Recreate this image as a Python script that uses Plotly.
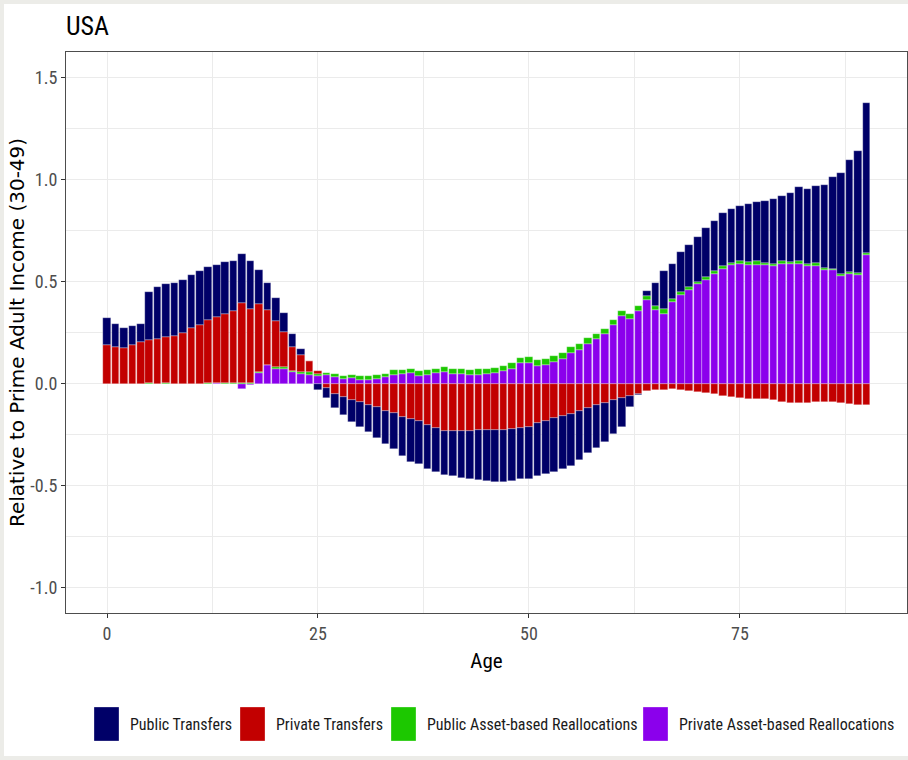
import plotly.graph_objects as go

# Age-profile decomposition for the USA (relative to prime adult income, ages 30-49)
ages = list(range(91))

public_transfers = [
    0.130, 0.113, 0.100, 0.093, 0.090, 0.235, 0.255, 0.258, 0.262, 0.260,
    0.262, 0.262, 0.260, 0.257, 0.255, 0.248, 0.244, 0.235, 0.163, 0.134,
    0.113, 0.093, 0.062, 0.031, 0.000, -0.028, -0.049, -0.070, -0.090, -0.106,
    -0.123, -0.134, -0.152, -0.162, -0.173, -0.190, -0.209, -0.212, -0.212, -0.216,
    -0.219, -0.221, -0.229, -0.237, -0.245, -0.250, -0.252, -0.252, -0.252, -0.250,
    -0.256, -0.261, -0.260, -0.266, -0.260, -0.253, -0.240, -0.225, -0.212, -0.193,
    -0.167, -0.142, -0.056, -0.005, 0.025, 0.111, 0.188, 0.172, 0.194, 0.208,
    0.219, 0.240, 0.245, 0.261, 0.263, 0.273, 0.288, 0.291, 0.304, 0.314,
    0.322, 0.338, 0.363, 0.366, 0.379, 0.406, 0.448, 0.494, 0.551, 0.598,
    0.738,
]

private_transfers = [
    0.193, 0.181, 0.175, 0.193, 0.204, 0.211, 0.218, 0.226, 0.233, 0.248,
    0.272, 0.288, 0.311, 0.322, 0.341, 0.353, 0.392, 0.365, 0.335, 0.267,
    0.228, 0.172, 0.116, 0.082, 0.052, 0.010, -0.020, -0.047, -0.064, -0.080,
    -0.090, -0.101, -0.113, -0.131, -0.145, -0.162, -0.172, -0.181, -0.203, -0.217,
    -0.229, -0.232, -0.232, -0.229, -0.227, -0.224, -0.227, -0.227, -0.222, -0.217,
    -0.209, -0.191, -0.183, -0.167, -0.157, -0.147, -0.132, -0.116, -0.103, -0.092,
    -0.078, -0.067, -0.057, -0.051, -0.034, -0.030, -0.028, -0.025, -0.028, -0.034,
    -0.038, -0.044, -0.049, -0.057, -0.064, -0.070, -0.072, -0.072, -0.074, -0.078,
    -0.088, -0.093, -0.093, -0.093, -0.090, -0.088, -0.088, -0.095, -0.098, -0.103,
    -0.103,
]

public_asset_realloc = [
    0.000, 0.000, 0.000, 0.000, 0.000, 0.003, 0.002, 0.002, 0.000, 0.000,
    0.000, 0.002, 0.002, 0.002, 0.002, 0.003, 0.003, 0.003, 0.005, 0.003,
    0.007, 0.006, 0.008, 0.010, 0.013, 0.010, 0.010, 0.011, 0.013, 0.018,
    0.018, 0.018, 0.018, 0.018, 0.021, 0.018, 0.021, 0.023, 0.023, 0.021,
    0.023, 0.026, 0.026, 0.026, 0.028, 0.025, 0.025, 0.025, 0.028, 0.025,
    0.029, 0.029, 0.028, 0.031, 0.029, 0.029, 0.029, 0.028, 0.028, 0.025,
    0.026, 0.020, 0.023, 0.023, 0.020, 0.020, 0.020, 0.018, 0.018, 0.016,
    0.013, 0.016, 0.013, 0.013, 0.013, 0.013, 0.013, 0.016, 0.013, 0.013,
    0.011, 0.011, 0.013, 0.010, 0.012, 0.010, 0.009, 0.011, 0.010, 0.010,
    0.009,
]

private_asset_realloc = [
    0.000, 0.000, 0.000, 0.000, 0.000, 0.000, 0.000, 0.002, 0.002, 0.002,
    0.002, 0.000, 0.002, 0.004, 0.002, 0.000, -0.023, -0.007, 0.054, 0.091,
    0.075, 0.075, 0.057, 0.050, 0.046, 0.041, 0.044, 0.036, 0.026, 0.028,
    0.020, 0.021, 0.026, 0.033, 0.046, 0.049, 0.054, 0.038, 0.044, 0.054,
    0.060, 0.047, 0.047, 0.044, 0.046, 0.049, 0.054, 0.062, 0.075, 0.103,
    0.103, 0.090, 0.095, 0.105, 0.124, 0.150, 0.165, 0.198, 0.219, 0.243,
    0.289, 0.335, 0.319, 0.358, 0.410, 0.364, 0.345, 0.400, 0.435, 0.459,
    0.489, 0.508, 0.541, 0.564, 0.582, 0.588, 0.583, 0.585, 0.582, 0.577,
    0.590, 0.587, 0.588, 0.580, 0.580, 0.559, 0.556, 0.528, 0.539, 0.536,
    0.632,
]

series_names = [
    "Public Transfers",
    "Private Transfers",
    "Public Asset-based Reallocations",
    "Private Asset-based Reallocations",
]
series_values = [public_transfers, private_transfers, public_asset_realloc, private_asset_realloc]
series_colors = ["#000068", "#C20000", "#1CC800", "#8B00EC"]

x_tickvals = [0, 25, 50, 75]
y_tickvals = [-1.0, -0.5, 0.0, 0.5, 1.0, 1.5]
y_ticktext = ["-1.0", "-0.5", "0.0", "0.5", "1.0", "1.5"]

NARROW = "Roboto Condensed, Liberation Sans Narrow, Liberation Sans, Arial, sans-serif"
WIDE = "DejaVu Sans, Liberation Sans, Arial, sans-serif"

W, H = 908, 760
PL, PR, PT, PB = 66, 907, 52, 613


def px_x(p):
    return (p - PL) / (PR - PL)


def px_y(p):
    return (PB - p) / (PB - PT)


fig = go.Figure()

# Stack from the zero line outward: private asset first, public transfers last
for name, vals, col in reversed(list(zip(series_names, series_values, series_colors))):
    fig.add_trace(go.Bar(
        x=ages, y=vals, name=name, width=0.9,
        marker=dict(color=col, line=dict(color="rgba(255,255,255,0.55)", width=0.5)),
        showlegend=False,
    ))

shapes = [
    # thin grey frame on the top, left and bottom of the page
    dict(type="rect", xref="paper", yref="paper",
         x0=px_x(0), x1=px_x(W + 20), y0=px_y(H), y1=px_y(0),
         line=dict(color="#ECECE8", width=8), fillcolor="rgba(0,0,0,0)", layer="below"),
]
annotations = []

# Legend row below the plot
sw_left = [94, 240, 391, 643]
for left, name, col in zip(sw_left, series_names, series_colors):
    shapes.append(dict(type="rect", xref="paper", yref="paper",
                       x0=px_x(left), x1=px_x(left + 25), y0=px_y(741), y1=px_y(707),
                       fillcolor=col, line=dict(color="rgba(255,255,255,0.6)", width=0.5)))
    annotations.append(dict(xref="paper", yref="paper", x=px_x(left + 34), y=px_y(724),
                            xanchor="left", yanchor="middle", showarrow=False, text=name,
                            font=dict(family=NARROW, size=16, color="#1a1a1a")))

axis_common = dict(
    showline=True, linecolor="#4d4d4d", linewidth=1.2, mirror=True,
    showgrid=True, gridcolor="#EBEBEB", gridwidth=1.1,
    zeroline=False, ticks="outside", ticklen=4, tickwidth=1, tickcolor="#333333",
    tickfont=dict(family=NARROW, size=18, color="#4d4d4d"),
)

fig.update_layout(
    width=W, height=H,
    margin=dict(l=PL, r=W - PR, t=PT, b=H - PB),
    paper_bgcolor="white", plot_bgcolor="white",
    barmode="relative", bargap=0,
    title=dict(text="USA", x=0, xref="paper", xanchor="left",
               y=1 - 26 / H, yref="container", yanchor="middle",
               font=dict(family=NARROW, size=26, color="black")),
    xaxis=dict(
        range=[-4.86, 94.8], tickvals=x_tickvals,
        minor=dict(dtick=12.5, tick0=0, showgrid=True, gridcolor="#EBEBEB", gridwidth=0.55, ticks=""),
        title=dict(text="Age", font=dict(family=NARROW, size=21, color="black"), standoff=10),
        **axis_common,
    ),
    yaxis=dict(
        range=[-1.123, 1.627], tickvals=y_tickvals, ticktext=y_ticktext,
        minor=dict(dtick=0.25, tick0=0, showgrid=True, gridcolor="#EBEBEB", gridwidth=0.55, ticks=""),
        title=dict(text="Relative to Prime Adult Income (30-49)",
                   font=dict(family=WIDE, size=20, color="black"), standoff=0),
        **axis_common,
    ),
    shapes=shapes,
    annotations=annotations,
)

fig.write_html("out.html")
